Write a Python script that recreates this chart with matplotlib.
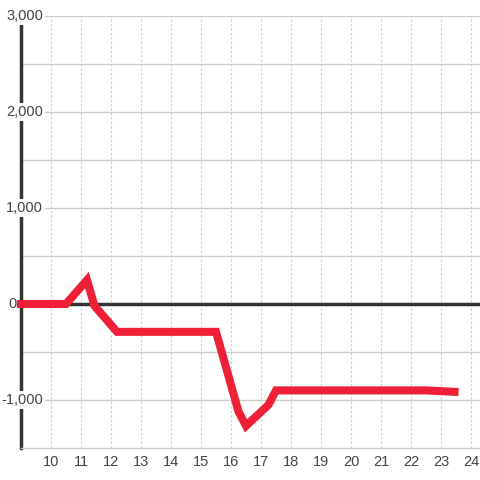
import numpy as np
import matplotlib.pyplot as plt

# --- DATA ---
x_vals = [9.0, 10.5, 11.2, 11.45, 12.2, 15.5, 16.25, 16.5, 17.25, 17.5, 22.5, 23.45]
y_vals = [0, 0, 250, -20, -290, -290, -1120, -1270, -1050, -900, -900, -915]

y_ticks = [-1000, 0, 1000, 2000, 3000]
y_tick_labels = ['-1,000', '0', '1,000', '2,000', '3,000']
x_ticks = list(range(10, 25))

plt.rcParams['font.family'] = ['Liberation Sans', 'DejaVu Sans']

fig = plt.figure(figsize=(4.8, 4.8), dpi=100)
ax = fig.add_axes([21 / 480, 32 / 480, 1 - 21 / 480, 432 / 480])

ax.set_xlim(9.0, 24.3)
ax.set_ylim(-1500, 3000)

# grid
for yv in np.arange(-1000, 3001, 500):
    if yv != 0:
        ax.axhline(yv, color='#cccccc', lw=1, zorder=1)
for xv in x_ticks:
    ax.axvline(xv, color='#cccccc', lw=0.8, ls=(0, (2, 2)), zorder=1)

ax.axhline(0, color='#333333', lw=2.5, zorder=2)

ax.plot(x_vals, y_vals, color='#ee1f36', lw=5.8, solid_joinstyle='miter',
        solid_capstyle='projecting', zorder=6, clip_on=False)

# spines
for s in ['top', 'right']:
    ax.spines[s].set_visible(False)
ax.spines['bottom'].set_color('#cccccc')
ax.spines['bottom'].set_linewidth(1)
ax.spines['left'].set_color('#333333')
ax.spines['left'].set_linewidth(2.5)
ax.spines['left'].set_zorder(2)

ax.set_yticks([])
ax.set_xticks(x_ticks)
ax.set_xticklabels([str(v) for v in x_ticks], fontsize=10.5, color='#444444')
ax.tick_params(axis='x', length=0, pad=5)

# y labels drawn inside, over the spine
for yv, lab in zip(y_ticks, y_tick_labels):
    if yv == 0:
        ax.text(8.84, yv, lab, ha='right', va='center', fontsize=10.5, color='#444444',
                zorder=5, clip_on=False)
    else:
        ax.text(9.74, yv, lab, ha='right', va='center', fontsize=10.5, color='#444444',
                zorder=5, clip_on=False,
                bbox=dict(facecolor='white', edgecolor='none', pad=1.5))

fig.savefig('out.png', dpi=100)
